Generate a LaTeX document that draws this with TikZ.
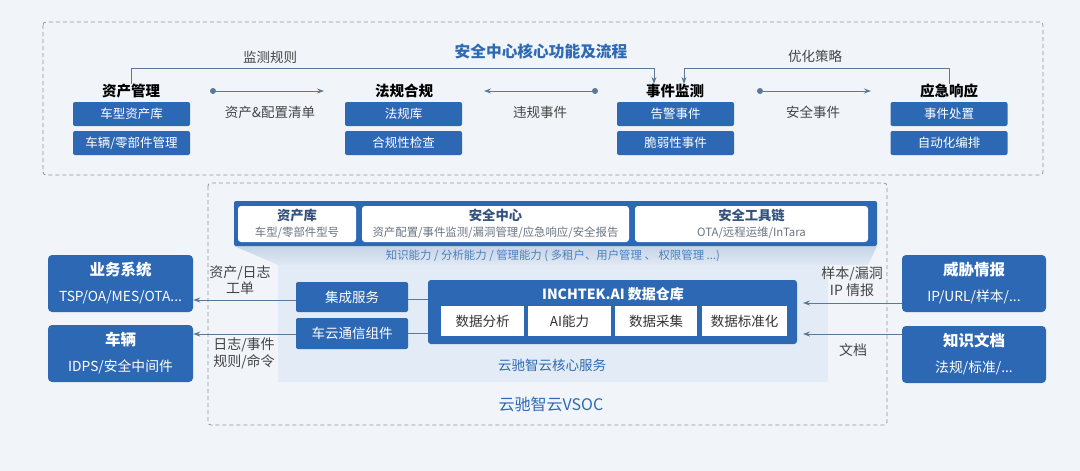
\documentclass[tikz,border=0pt]{standalone}
\usepackage{fontspec}
\setmainfont{Noto Sans CJK SC}
\usetikzlibrary{arrows.meta}
\definecolor{bg}{HTML}{F1F5FA}
\definecolor{bbox}{HTML}{2D68B4}
\definecolor{ttl}{HTML}{2E6AB3}
\definecolor{txt}{HTML}{333333}
\definecolor{lbl}{HTML}{444444}
\definecolor{ln}{HTML}{5B7896}
\definecolor{dsh}{HTML}{8A96A3}
\definecolor{core}{HTML}{E2EBF6}
\definecolor{wtxt}{HTML}{34527D}
\definecolor{gtxt}{HTML}{6A7480}
\definecolor{shtop}{HTML}{C6D4E6}
\definecolor{shbot}{HTML}{E0E9F4}
\tikzset{
  dashbox/.style={draw=dsh,line width=0.8pt,dash pattern=on 4pt off 3pt,rounded corners=3pt},
  head/.style={font=\bfseries\fontsize{14.5}{16}\selectfont,text=black,inner sep=0pt},
  subbox/.style={fill=bbox,rounded corners=2pt,minimum width=117pt,minimum height=24pt,inner sep=0pt,text=white,font=\fontsize{12.5}{14}\selectfont},
  lab/.style={font=\fontsize{13.5}{16.5}\selectfont,text=lbl,inner sep=0pt,align=center},
  slab/.style={font=\fontsize{14}{16.5}\selectfont,text=lbl,inner sep=0pt,align=center},
  arr/.style={draw=ln,line width=1pt,-{Stealth[length=7pt,width=5pt]}},
  plain/.style={draw=ln,line width=1pt},
  dot/.style={circle,fill=ln,minimum size=6pt,inner sep=0pt},
  sidebox/.style={fill=bbox,rounded corners=4pt,minimum width=145pt,minimum height=57pt,inner sep=0pt},
  sidet/.style={font=\bfseries\fontsize{15.5}{17}\selectfont,text=white,inner sep=0pt},
  sides/.style={font=\fontsize{13.8}{15}\selectfont,text=white,inner sep=0pt},
  wbox/.style={fill=white,rounded corners=3pt,inner sep=0pt},
  wt/.style={font=\bfseries\fontsize{13.3}{15}\selectfont,text=wtxt,inner sep=0pt},
  ws/.style={font=\fontsize{11.4}{13}\selectfont,text=gtxt,inner sep=0pt},
  mid/.style={fill=bbox,rounded corners=2pt,inner sep=0pt,text=white,font=\fontsize{13.5}{15}\selectfont},
  inbox/.style={fill=white,inner sep=0pt,minimum height=30pt,text=txt,font=\fontsize{13.5}{15}\selectfont},
}
\begin{document}
\begin{tikzpicture}[x=1pt,y=-1pt]
\fill[bg] (0,0) rectangle (1080,471);
\useasboundingbox (0,0) rectangle (1080,471);

% ===== top section =====
\draw[dashbox] (43,22) rectangle (1043,175);
\node[font=\bfseries\fontsize{15.7}{18}\selectfont,text=ttl,inner sep=0pt] (title) at (541,52) {安全中心核心功能及流程};

\node[head] (zc) at (131,91) {资产管理};
\node[head] (fg) at (404,91) {法规合规};
\node[head] (sj) at (675,91) {事件监测};
\node[head] (yj) at (949,91) {应急响应};

\node[subbox] (zc1) at (131.5,114) {车型资产库};
\node[subbox] (zc2) at (131.5,143) {车辆/零部件管理};
\node[subbox] (fg1) at (403.5,114) {法规库};
\node[subbox] (fg2) at (403.5,143) {合规性检查};
\node[subbox] (sj1) at (675.5,114) {告警事件};
\node[subbox] (sj2) at (675.5,143) {脆弱性事件};
\node[subbox] (yj1) at (949,114) {事件处置};
\node[subbox] (yj2) at (949,143) {自动化编排};

% monitoring rules / optimisation loops
\coordinate (r1) at (654,68);
\coordinate (r2) at (684,68);
\draw[arr] (zc.north) |- (r1) -- (r1 |- sj.north);
\draw[arr] (yj.north) |- (r2) -- (r2 |- sj.north);
\node[lab] (l1) at (270,57) {监测规则};
\node[lab] (l2) at (815,56) {优化策略};

% horizontal flows
\node[dot] (d1) at (213,91) {};
\coordinate (e1) at (324,91);
\draw[arr] (d1) -- (e1);
\node[lab] (l3) at (270,112) {资产\&配置清单};

\node[dot] (d2) at (595,91) {};
\coordinate (e2) at (484,91);
\draw[arr] (d2) -- (e2);
\node[lab] (l4) at (540,112) {违规事件};

\node[dot] (d3) at (760,91) {};
\coordinate (e3) at (871,91);
\draw[arr] (d3) -- (e3);
\node[lab] (l5) at (813,112) {安全事件};

% ===== middle section =====
\draw[dashbox] (208,183) rectangle (887,425);

% perspective shadow under platform
\shade[top color=shtop,bottom color=shbot] (234,246) -- (877,246) -- (868,265) -- (278,265) -- cycle;
% core panel
\fill[core] (278,265) rectangle (828,382);

% platform band
\fill[bbox,rounded corners=2pt] (234,201) rectangle (877,246);
\node[wbox,minimum width=118pt,minimum height=36pt] (zck) at (297,224) {};
\node[wbox,minimum width=267pt,minimum height=36pt] (aqzx) at (495.5,224) {};
\node[wbox,minimum width=233pt,minimum height=36pt] (gjl) at (751.5,224) {};
\node[wt] (zckt) at (297,215) {资产库};
\node[ws] (zcks) at (297,233) {车型/零部件型号};
\node[wt] (aqzxt) at (495.5,215) {安全中心};
\node[ws] (aqzxs) at (495.5,233) {资产配置/事件监测/漏洞管理/应急响应/安全报告};
\node[wt] (gjlt) at (751.5,215) {安全工具链};
\node[ws] (gjls) at (751.5,233) {OTA/远程运维/InTara};
\node[font=\fontsize{11.4}{13}\selectfont,text=ttl!85!white,inner sep=0pt] (nl) at (553,256) {知识能力 / 分析能力 / 管理能力 ( 多租户、用户管理 、 权限管理 ...)};

% services
\node[mid,minimum width=112pt,minimum height=30pt] (jcfw) at (352,297) {集成服务};
\node[mid,minimum width=112pt,minimum height=31pt] (cytx) at (352,333.5) {车云通信组件};
\node[fill=bbox,rounded corners=3pt,minimum width=369pt,minimum height=64pt,inner sep=0pt] (dw) at (612.5,312) {};
\node[font=\bfseries\fontsize{14}{15}\selectfont,text=white,inner sep=0pt] (dwt) at (613,294) {INCHTEK.AI 数据仓库};
\node[inbox,minimum width=83pt] (sj_fx) at (482.5,321) {数据分析};
\node[inbox,minimum width=83pt] (sj_ai) at (569.5,321) {AI能力};
\node[inbox,minimum width=82pt] (sj_cj) at (656,321) {数据采集};
\node[inbox,minimum width=85pt] (sj_bz) at (744.5,321) {数据标准化};
\node[font=\fontsize{13.5}{15}\selectfont,text=ttl,inner sep=0pt] (hx) at (552,365) {云驰智云核心服务};
\node[font=\fontsize{16}{18}\selectfont,text=ttl,inner sep=0pt] (vsoc) at (551,404) {云驰智云VSOC};

\draw[plain] (jcfw.east |- 0,299) -- (dw.west |- 0,299);
\draw[plain] (cytx.east |- 0,333) -- (dw.west |- 0,333);

% left side boxes
\node[sidebox] (yw) at (120.5,283.5) {};
\node[sidet] (ywt) at (120.5,270) {业务系统};
\node[sides] (yws) at (120.5,297) {TSP/OA/MES/OTA...};
\node[sidebox] (cl) at (120.5,353.5) {};
\node[sidet] (clt) at (120.5,340) {车辆};
\node[sides] (cls) at (120.5,367) {IDPS/安全中间件};

\draw[arr] (jcfw.west |- 0,300) -- (yw.east |- 0,300);
\draw[arr] (cytx.west |- 0,334) -- (cl.east |- 0,334);
\node[slab] (l6) at (240,280) {资产/日志\\工单};
\node[slab] (l7) at (244,353.5) {日志/事件\\规则/命令};

% right side boxes
\node[sidebox,minimum width=144pt] (wx) at (974,283.5) {};
\node[sidet] (wxt) at (974,270) {威胁情报};
\node[sides] (wxs) at (974,297) {IP/URL/样本/...};
\node[sidebox,minimum width=144pt] (zs) at (974,354.5) {};
\node[sidet] (zst) at (974,341) {知识文档};
\node[sides] (zss) at (974,368) {法规/标准/...};

\coordinate (dwr1) at (803,303);
\coordinate (dwr2) at (803,334);
\draw[arr] (wx.west |- dwr1) -- (dwr1);
\draw[arr] (zs.west |- dwr2) -- (dwr2);
\node[slab] (l8) at (852,281.5) {样本/漏洞\\IP 情报};
\node[slab] (l9) at (853,350) {文档};
\end{tikzpicture}
\end{document}
